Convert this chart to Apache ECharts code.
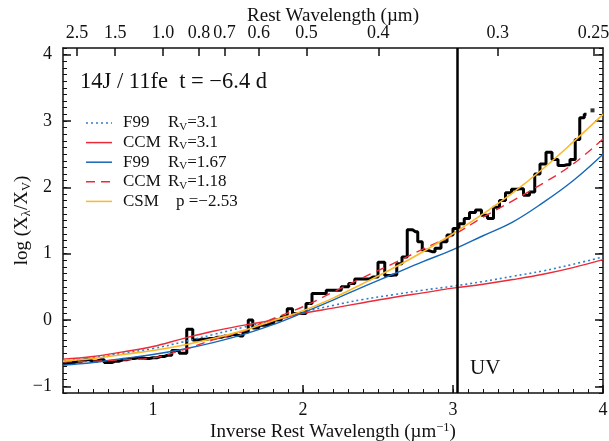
<!DOCTYPE html>
<html><head><meta charset="utf-8">
<script src="https://cdn.jsdelivr.net/npm/echarts@6/dist/echarts.min.js"></script>
<style>html,body{margin:0;padding:0;background:#fff}#c{width:609px;height:441px}</style>
</head><body><div id="c"></div>
<script>
const FONT = '"Liberation Serif","Times New Roman",serif';

// Observed extinction ratio (binned spectrum), inverse wavelength in 1/µm
const specX = [0.40,0.45,0.50,0.55,0.60,0.65,0.70,0.75,0.80,0.85,0.90,0.95,1.00,1.05,1.10,1.15,1.20,1.25,1.28,1.33,1.38,1.43,1.48,1.53,1.58,1.62,1.65,1.68,1.73,1.78,1.83,1.88,1.91,1.95,2.00,2.04,2.08,2.13,2.18,2.23,2.28,2.33,2.36,2.42,2.47,2.53,2.56,2.61,2.64,2.68,2.71,2.75,2.78,2.81,2.86,2.90,2.94,2.98,3.02,3.06,3.09,3.13,3.17,3.21,3.25,3.29,3.33,3.37,3.41,3.45,3.49,3.53,3.56,3.60,3.64,3.68,3.72,3.76,3.80,3.83,3.86,3.89];
const specY = [-0.66,-0.64,-0.62,-0.60,-0.62,-0.60,-0.64,-0.62,-0.60,-0.58,-0.57,-0.58,-0.57,-0.55,-0.53,-0.46,-0.50,-0.14,-0.30,-0.29,-0.28,-0.26,-0.24,-0.22,-0.24,-0.18,0.00,-0.12,-0.08,-0.05,0.00,0.05,0.17,0.10,0.10,0.25,0.40,0.40,0.45,0.45,0.50,0.55,0.62,0.62,0.65,0.87,0.67,0.68,0.85,0.95,1.36,1.33,1.18,1.05,1.03,1.08,1.18,1.28,1.38,1.45,1.53,1.62,1.66,1.58,1.53,1.70,1.80,1.92,1.97,1.98,1.88,1.93,2.20,2.35,2.53,2.42,2.33,2.34,2.42,2.72,3.05,3.10];
const specDot = [3.93, 3.16];

// Extinction-law curves sampled on a common grid
const modelX   = [0.4,0.6,0.8,1.0,1.2,1.4,1.6,1.8,2.0,2.2,2.4,2.6,2.8,3.0,3.2,3.4,3.6,3.8,4.0];
const f99Rv31  = [-0.62,-0.57,-0.50,-0.43,-0.33,-0.22,-0.11,0.00,0.12,0.22,0.31,0.38,0.45,0.51,0.58,0.66,0.74,0.84,0.95];
const ccmRv31  = [-0.59,-0.55,-0.48,-0.40,-0.28,-0.17,-0.08,0.00,0.10,0.18,0.26,0.34,0.41,0.48,0.54,0.61,0.69,0.79,0.91];
const f99Rv167 = [-0.68,-0.64,-0.58,-0.52,-0.44,-0.34,-0.22,-0.07,0.11,0.30,0.50,0.69,0.88,1.06,1.27,1.48,1.77,2.10,2.50];
const ccmRv118 = [-0.63,-0.62,-0.60,-0.57,-0.45,-0.30,-0.17,0.02,0.20,0.42,0.64,0.85,1.07,1.28,1.55,1.80,2.06,2.35,2.73];
const csmP253  = [-0.62,-0.58,-0.52,-0.46,-0.38,-0.28,-0.16,-0.01,0.14,0.33,0.55,0.78,1.03,1.30,1.60,1.92,2.28,2.68,3.10];

const bottomTicks = [1, 2, 3, 4];
const leftTicks = [-1, 0, 1, 2, 3, 4];
const topLabels = ['2.5','1.5','1.0','0.8','0.7','0.6','0.5','0.4','0.3','0.25'];
const uvEdgeMicron = 0.33;

const legendNames  = ['F99', 'CCM', 'F99', 'CCM', 'CSM'];
const legendParams = ['R{s|V}=3.1', 'R{s|V}=3.1', 'R{s|V}=1.67', 'R{s|V}=1.18', 'p =\u22122.53'];

const X_MIN = 0.4, X_MAX = 4.0, Y_MIN = -1.1, Y_MAX = 4.1;
// the wavelength scale on top spans its own inverse-wavelength range
const TOP_MIN = 0.303, TOP_MAX = 4.066;

function steps(lo, hi, d) {
  const out = [];
  for (let v = lo; v <= hi + 1e-9; v += d) out.push(Math.round(v * 10) / 10);
  return out;
}
const xMinor = steps(X_MIN, X_MAX, 0.1);
const yMinor = steps(Y_MIN, Y_MAX, 0.1);
const topPos = topLabels.map(s => 1 / parseFloat(s));

const minus = v => String(v).replace('-', '\u2212');
const frame = { show: true, onZero: false, lineStyle: { color: '#111', width: 1.5 } };
const noLine = { show: false, onZero: false };
const labelFont = { fontFamily: FONT, fontSize: 18, color: '#111' };
const nameFont = { fontFamily: FONT, fontSize: 19, color: '#111' };
const subFont = { fontFamily: FONT, fontSize: 12.5, color: '#111' };

const styles = [
  { data: f99Rv31,  color: '#2f7fc8', type: [2, 3], width: 1.6 },
  { data: ccmRv31,  color: '#ee2a36', type: 'solid', width: 1.4 },
  { data: f99Rv167, color: '#1567b8', type: 'solid', width: 1.4 },
  { data: ccmRv118, color: '#ee2a36', type: [9, 6], width: 1.4 },
  { data: csmP253,  color: '#fbb929', type: 'solid', width: 1.6 }
];
const legendColors = styles.map(s => s.color);
const legendTypes  = styles.map(s => s.type);

const option = {
  animation: false,
  backgroundColor: '#fff',
  grid: { left: 63, right: 6, top: 48, bottom: 48, containLabel: false, outerBoundsMode: 'none' },
  xAxis: [
    { type: 'value', position: 'bottom', min: X_MIN, max: X_MAX,
      axisLine: frame, splitLine: { show: false },
      axisTick: { inside: true, length: 8, customValues: bottomTicks, lineStyle: { color: '#111', width: 1.5 } },
      axisLabel: Object.assign({ customValues: bottomTicks, margin: 8 }, labelFont),
      name: '{a|Inverse Rest Wavelength (\u00b5m}{sup|\u22121}{a|)}', nameLocation: 'middle', nameGap: 28,
      nameMoveOverlap: false,
      nameTextStyle: { rich: {
        a: nameFont,
        sup: Object.assign({ padding: [0, 0, 9, 0] }, subFont) } } },
    { type: 'value', position: 'bottom', min: X_MIN, max: X_MAX,
      axisLine: noLine, splitLine: { show: false }, axisLabel: { show: false },
      axisTick: { inside: true, length: 4, customValues: xMinor, lineStyle: { color: '#111', width: 1 } } },
    { type: 'value', position: 'top', min: TOP_MIN, max: TOP_MAX,
      axisLine: frame, splitLine: { show: false },
      axisTick: { inside: true, length: 8, customValues: topPos, lineStyle: { color: '#111', width: 1.5 } },
      axisLabel: Object.assign({ customValues: topPos, margin: 6,
        formatter: v => { const i = topPos.findIndex(p => Math.abs(p - v) < 1e-6); return i >= 0 ? topLabels[i] : ''; } }, labelFont),
      name: 'Rest Wavelength (\u00b5m)', nameLocation: 'middle', nameGap: 22, nameMoveOverlap: false,
      nameTextStyle: nameFont }
  ],
  yAxis: [
    { type: 'value', position: 'left', min: Y_MIN, max: Y_MAX,
      axisLine: frame, splitLine: { show: false },
      axisTick: { inside: true, length: 8, customValues: leftTicks, lineStyle: { color: '#111', width: 1.5 } },
      axisLabel: Object.assign({ customValues: leftTicks, margin: 11, formatter: minus }, labelFont),
      name: '{a|log (X}{s|\u03bb}{a|/X}{s|V}{a|)}', nameLocation: 'middle', nameGap: 30, nameRotate: 90,
      nameMoveOverlap: false,
      nameTextStyle: { rich: {
        a: nameFont,
        s: Object.assign({ padding: [8, 0, 0, 0] }, subFont) } } },
    { type: 'value', position: 'left', min: Y_MIN, max: Y_MAX,
      axisLine: noLine, splitLine: { show: false }, axisLabel: { show: false },
      axisTick: { inside: true, length: 4, customValues: yMinor, lineStyle: { color: '#111', width: 1 } } },
    { type: 'value', position: 'right', min: Y_MIN, max: Y_MAX,
      axisLine: frame, splitLine: { show: false }, axisLabel: { show: false },
      axisTick: { inside: true, length: 8, customValues: leftTicks, lineStyle: { color: '#111', width: 1.5 } } },
    { type: 'value', position: 'right', min: Y_MIN, max: Y_MAX,
      axisLine: noLine, splitLine: { show: false }, axisLabel: { show: false },
      axisTick: { inside: true, length: 4, customValues: yMinor, lineStyle: { color: '#111', width: 1 } } }
  ],
  series: [
    { type: 'line', name: 'spectrum', xAxisIndex: 0, yAxisIndex: 0,
      data: specX.map((x, i) => [x, specY[i]]), step: 'middle', symbol: 'none',
      lineStyle: { color: '#000', width: 3 }, z: 2,
      markLine: { silent: true, symbol: 'none', label: { show: false },
        lineStyle: { color: '#000', width: 2.5, type: 'solid' },
        data: [{ xAxis: 1 / uvEdgeMicron }] } },
    { type: 'scatter', xAxisIndex: 0, yAxisIndex: 0, data: [specDot], symbol: 'rect', symbolSize: 4,
      itemStyle: { color: '#000' }, z: 2 }
  ].concat(styles.map(s => ({
    type: 'line', xAxisIndex: 0, yAxisIndex: 0, smooth: 0.4, symbol: 'none', z: 3,
    data: modelX.map((x, i) => [x, s.data[i]]),
    lineStyle: { color: s.color, width: s.width, type: s.type }
  }))),
  graphic: [
    { type: 'text', left: 80, top: 71,
      style: { text: '14J / 11fe  t = \u22126.4 d', fontFamily: FONT, fontSize: 22.5, fill: '#111' } },
    { type: 'text', left: 470, top: 358,
      style: { text: 'UV', fontFamily: FONT, fontSize: 21, fill: '#111' } }
  ].concat(legendNames.flatMap((n, i) => {
    const y = 123 + i * 19.6;
    return [
      { type: 'line', shape: { x1: 86, y1: y, x2: 112, y2: y },
        style: { stroke: legendColors[i], lineWidth: 1.5, lineDash: legendTypes[i] === 'solid' ? null : legendTypes[i] } },
      { type: 'text', x: 123, y: y, style: { text: n, fontFamily: FONT, fontSize: 17, fill: '#111', verticalAlign: 'middle' } },
      { type: 'text', x: i === 4 ? 176 : 168, y: y,
        style: { text: legendParams[i], fontFamily: FONT, fontSize: 17, fill: '#111', verticalAlign: 'middle',
          rich: { s: { fontFamily: FONT, fontSize: 11, fill: '#111', padding: [8, 0, 0, 0] } } } }
    ];
  }))
};

echarts.init(document.getElementById('c'), null, { renderer: 'canvas' }).setOption(option);
</script></body></html>
